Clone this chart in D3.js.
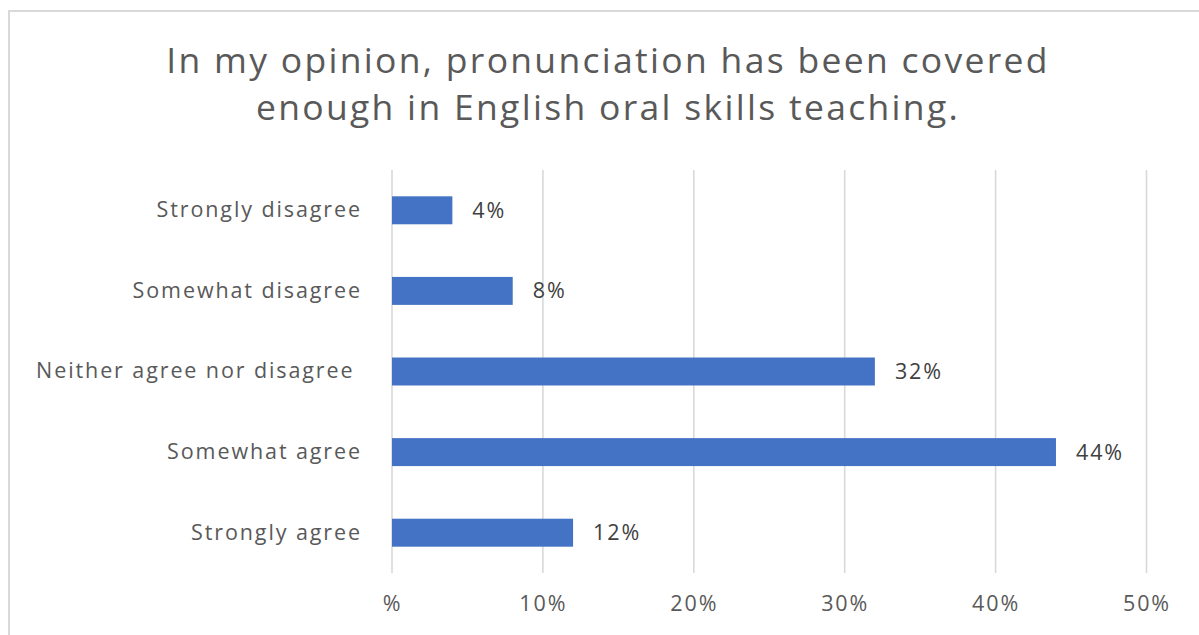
<!DOCTYPE html>
<html>
<head>
<meta charset="utf-8">
<script src="https://cdn.jsdelivr.net/npm/d3@7"></script>
<style>
  html, body { margin: 0; padding: 0; background: #fff; }
  svg { display: block; }
  text { font-family: "Open Sans", Lato, sans-serif; }
</style>
</head>
<body>
<script>
// Survey responses, top to bottom
const categories = [
  "Strongly disagree",
  "Somewhat disagree",
  "Neither agree nor disagree ",
  "Somewhat agree",
  "Strongly agree"
];
const values = [4, 8, 32, 44, 12];           // percent of respondents
const tickValues = [0, 10, 20, 30, 40, 50];
const tickLabels = ["%", "10%", "20%", "30%", "40%", "50%"];
const titleLines = [
  "In my opinion, pronunciation has been covered",
  "enough in English oral skills teaching."
];

const W = 1199, H = 635;
const margin = { left: 392, right: 52.5, top: 170, bottom: 62 };
const labelFont = { size: 21.5, spacing: 1.9 };

const svg = d3.select("body").append("svg")
  .attr("width", W).attr("height", H);

// chart frame
svg.append("rect")
  .attr("x", 9).attr("y", 11)
  .attr("width", W + 20).attr("height", H + 20)
  .attr("fill", "#fff")
  .attr("stroke", "#d9d9d9")
  .attr("stroke-width", 2);

const x = d3.scaleLinear()
  .domain([0, 50])
  .range([margin.left, W - margin.right]);

const y = d3.scaleBand()
  .domain(categories)
  .range([margin.top, H - margin.bottom])
  .paddingInner(0.653)
  .paddingOuter(0.3265);

// title
svg.append("g")
  .selectAll("text")
  .data(titleLines)
  .join("text")
  .attr("x", 608)
  .attr("y", (d, i) => 73 + i * 47)
  .attr("text-anchor", "middle")
  .attr("fill", "#595959")
  .attr("font-size", 35.5)
  .attr("letter-spacing", 2.3)
  .text(d => d);

// vertical gridlines
svg.append("g")
  .selectAll("line")
  .data(tickValues)
  .join("line")
  .attr("x1", d => x(d)).attr("x2", d => x(d))
  .attr("y1", margin.top).attr("y2", H - margin.bottom)
  .attr("stroke", "#d9d9d9")
  .attr("stroke-width", 1.6);

// x axis labels
const xAxis = d3.axisBottom(x)
  .tickValues(tickValues)
  .tickFormat((d, i) => tickLabels[i])
  .tickSize(0)
  .tickPadding(0);

const gx = svg.append("g")
  .attr("transform", `translate(0, ${H - margin.bottom + 23})`)
  .call(xAxis);
gx.select(".domain").remove();
gx.selectAll("text")
  .attr("fill", "#595959")
  .attr("font-size", labelFont.size)
  .attr("letter-spacing", labelFont.spacing)
  .attr("font-family", "'Open Sans', Lato, sans-serif");

// category labels
const yAxis = d3.axisLeft(y).tickSize(0).tickPadding(30);
const gy = svg.append("g")
  .attr("transform", `translate(${margin.left}, 0)`)
  .call(yAxis);
gy.select(".domain").remove();
gy.selectAll("text")
  .attr("fill", "#595959")
  .attr("font-size", labelFont.size)
  .attr("letter-spacing", labelFont.spacing)
  .attr("font-family", "'Open Sans', Lato, sans-serif")
  .style("white-space", "pre");

// bars
svg.append("g")
  .selectAll("rect")
  .data(values)
  .join("rect")
  .attr("x", x(0))
  .attr("y", (d, i) => y(categories[i]))
  .attr("width", d => x(d) - x(0))
  .attr("height", y.bandwidth())
  .attr("fill", "#4472c4");

// value labels
svg.append("g")
  .selectAll("text")
  .data(values)
  .join("text")
  .attr("x", d => x(d) + 20)
  .attr("y", (d, i) => y(categories[i]) + y.bandwidth() / 2)
  .attr("dy", "0.35em")
  .attr("fill", "#404040")
  .attr("font-size", labelFont.size)
  .attr("letter-spacing", labelFont.spacing)
  .text(d => d + "%");
</script>
</body>
</html>
